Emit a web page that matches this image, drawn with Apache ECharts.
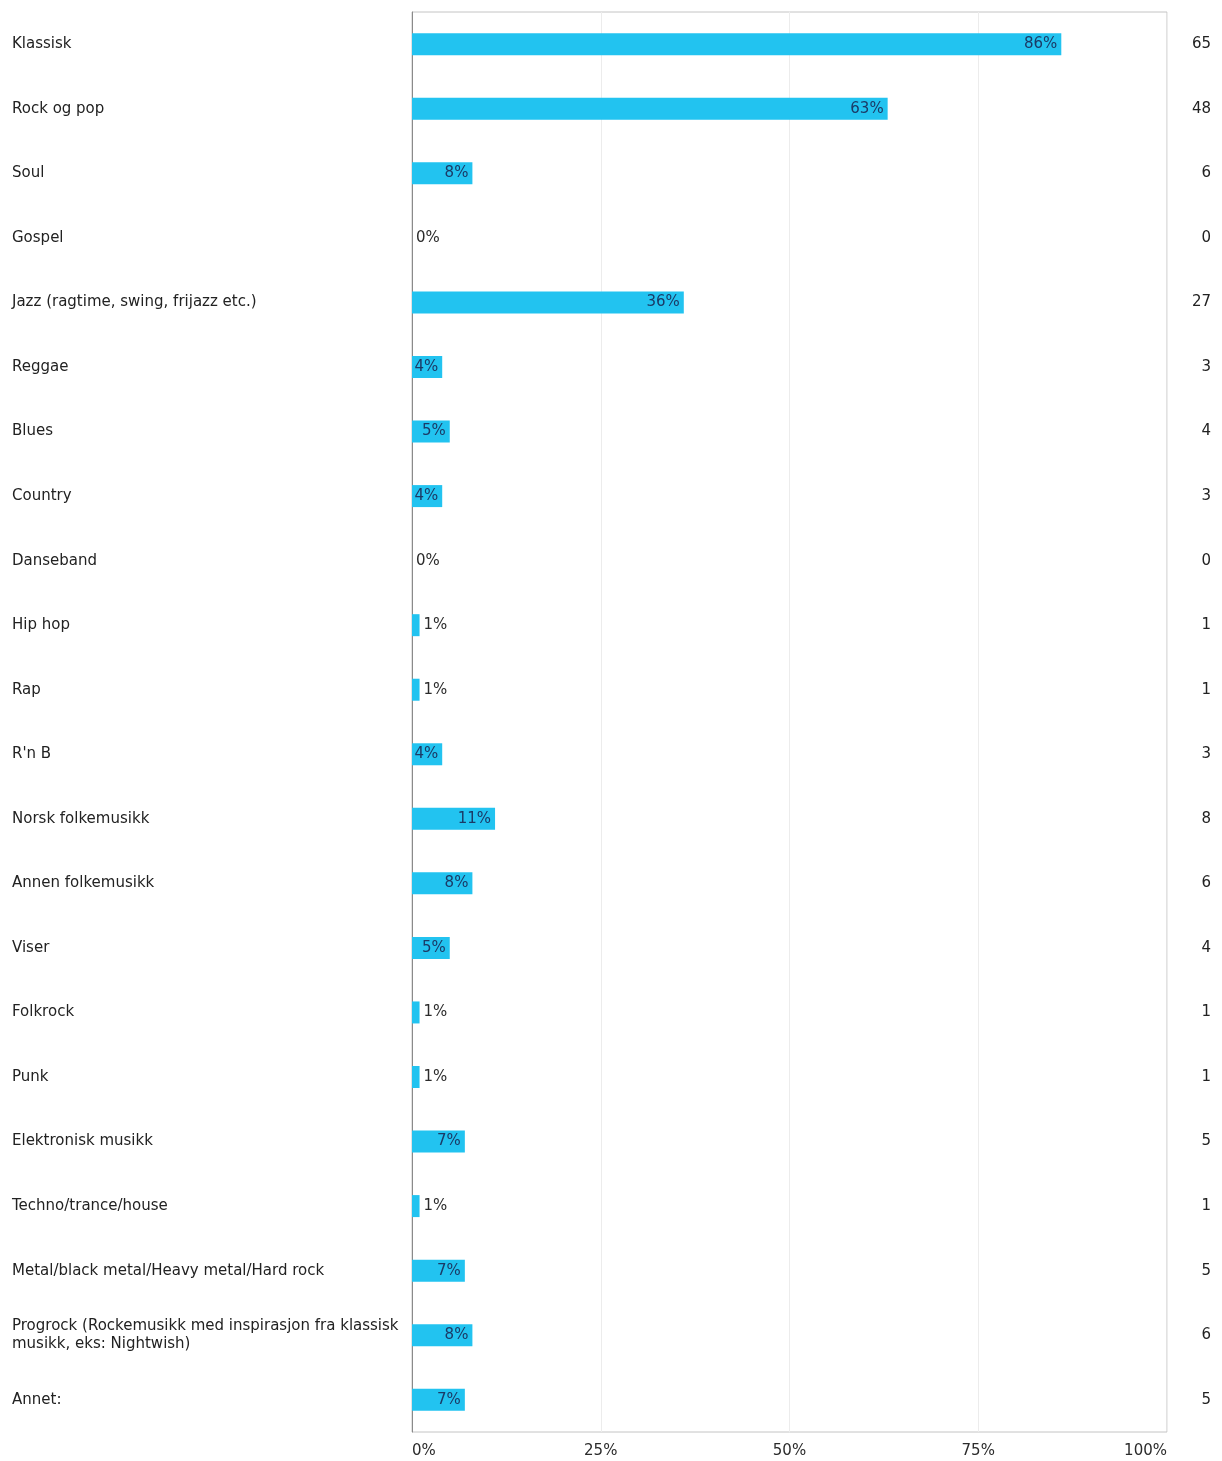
<!DOCTYPE html>
<html>
<head>
<meta charset="utf-8">
<script src="https://cdn.jsdelivr.net/npm/echarts@6/dist/echarts.min.js"></script>
<style>
  html, body { margin: 0; padding: 0; background: #ffffff; }
  #chart { width: 1222px; height: 1461px; }
</style>
</head>
<body>
<div id="chart"></div>
<script>
// Music genres, share of respondents (%) and number of answers
const categories = [
  'Klassisk',
  'Rock og pop',
  'Soul',
  'Gospel',
  'Jazz (ragtime, swing, frijazz etc.)',
  'Reggae',
  'Blues',
  'Country',
  'Danseband',
  'Hip hop',
  'Rap',
  "R'n B",
  'Norsk folkemusikk',
  'Annen folkemusikk',
  'Viser',
  'Folkrock',
  'Punk',
  'Elektronisk musikk',
  'Techno/trance/house',
  'Metal/black metal/Heavy metal/Hard rock',
  'Progrock (Rockemusikk med inspirasjon fra klassisk\nmusikk, eks: Nightwish)',
  'Annet:'
];
const percents = [86, 63, 8, 0, 36, 4, 5, 4, 0, 1, 1, 4, 11, 8, 5, 1, 1, 7, 1, 7, 8, 7];
const counts = [65, 48, 6, 0, 27, 3, 4, 3, 0, 1, 1, 3, 8, 6, 4, 1, 1, 5, 1, 5, 6, 5];
const xTicks = [0, 25, 50, 75, 100];

const FONT = '"DejaVu Sans", Verdana, sans-serif';

// Short bars get their label outside, longer ones inside the bar end
const barData = percents.map(function (v) {
  const small = v < 3;
  return {
    value: v,
    label: small
      ? { position: 'right', distance: 4, color: '#2b2b2b' }
      : { position: 'insideRight', distance: 4, color: '#1b3a66' }
  };
});

const chart = echarts.init(document.getElementById('chart'), null, { renderer: 'canvas' });
chart.setOption({
  animation: false,
  backgroundColor: '#ffffff',
  grid: {
    left: 412, right: 55, top: 12, bottom: 29,
    show: true, borderColor: '#c4c4c4', borderWidth: 1, containLabel: false
  },
  xAxis: {
    type: 'value',
    min: xTicks[0],
    max: xTicks[xTicks.length - 1],
    interval: 25,
    axisLine: { show: false },
    axisTick: { show: false },
    splitLine: { show: true, lineStyle: { color: '#ececec', width: 1 } },
    axisLabel: {
      formatter: '{value}%',
      fontFamily: FONT, fontSize: 15, color: '#2b2b2b',
      margin: 12,
      alignMinLabel: 'left', alignMaxLabel: 'right'
    }
  },
  yAxis: [
    {
      type: 'category',
      data: categories,
      inverse: true,
      position: 'left',
      axisLine: { show: true, lineStyle: { color: '#8a8a8a', width: 1 } },
      axisTick: { show: false },
      splitLine: { show: false },
      axisLabel: {
        align: 'left', margin: 400,
        padding: [3, 0, 0, 0],
        fontFamily: FONT, fontSize: 15, color: '#222222', lineHeight: 18
      }
    },
    {
      type: 'category',
      data: counts.map(String),
      inverse: true,
      position: 'right',
      axisLine: { show: false },
      axisTick: { show: false },
      splitLine: { show: false },
      axisLabel: {
        align: 'right', margin: 44,
        padding: [3, 0, 0, 0],
        fontFamily: FONT, fontSize: 15, color: '#222222'
      }
    }
  ],
  series: [{
    type: 'bar',
    yAxisIndex: 0,
    data: barData,
    barWidth: 22,
    itemStyle: { color: '#22c3f0' },
    label: {
      show: true,
      formatter: '{c}%',
      padding: [2, 0, 0, 0],
      fontFamily: FONT, fontSize: 15
    }
  }]
});
</script>
</body>
</html>
